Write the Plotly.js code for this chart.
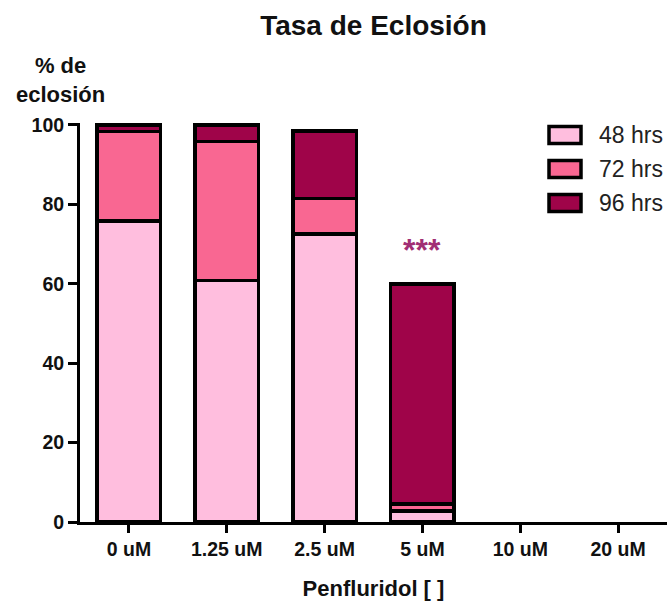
<!DOCTYPE html>
<html>
<head>
<meta charset="utf-8">
<script src="https://cdn.plot.ly/plotly-3.0.1.min.js"></script>
<style>
  html, body { margin: 0; padding: 0; background: #fff; }
  #chart { width: 667px; height: 601px; }
</style>
</head>
<body>
<div id="chart"></div>
<script>
// Hatching rate (% de eclosión) by penfluridol concentration, stacked by time point
const categories = ['0 uM', '1.25 uM', '2.5 uM', '5 uM', '10 uM', '20 uM'];
const hrs48 = [75.8, 60.8, 72.5, 2.8, 0, 0];
const hrs72 = [22.5, 35.0, 9.0, 1.7, 0, 0];
const hrs96 = [1.7, 4.2, 17.0, 55.5, 0, 0];
const seriesNames = ['48 hrs', '72 hrs', '96 hrs'];
const seriesColors = ['#FFBEDE', '#F96792', '#9F0449'];
const significance = { category: '5 uM', label: '***' };

const FONT = '"Liberation Sans", Arial, sans-serif';
const INK = '#111111';

// plot area geometry (pixels) used to place the hand-drawn legend
const W = 667, H = 601;
const M = { l: 80, r: 0, t: 123, b: 79 };
const plotW = W - M.l - M.r, plotH = H - M.t - M.b;
const px2x = px => (px - M.l) / plotW;
const py2y = py => (H - M.b - py) / plotH;

const seriesValues = [hrs48, hrs72, hrs96];
const traces = seriesValues.map((vals, i) => ({
  type: 'bar',
  name: seriesNames[i],
  x: categories,
  y: vals,
  marker: {
    color: seriesColors[i],
    // no outline on empty segments, so zero stacks stay invisible
    line: { color: '#000', width: vals.map(v => (v > 0 ? 3.5 : 0)) }
  },
  hoverinfo: 'x+y+name',
  showlegend: false
}));

// stacked total for the annotated category
const idx = categories.indexOf(significance.category);
const total = hrs48[idx] + hrs72[idx] + hrs96[idx];

const shapes = [];
const annotations = [];
const rowCenters = [135, 169, 203];
seriesNames.forEach((name, i) => {
  const cy = rowCenters[i];
  shapes.push({
    type: 'rect', xref: 'paper', yref: 'paper',
    x0: px2x(549), x1: px2x(581),
    y0: py2y(cy + 8.5), y1: py2y(cy - 8.5),
    fillcolor: seriesColors[i],
    line: { color: '#000', width: 3.5 }
  });
  annotations.push({
    xref: 'paper', yref: 'paper',
    x: px2x(597), y: py2y(cy),
    xanchor: 'left', yanchor: 'middle',
    text: name, showarrow: false,
    font: { family: FONT, size: 23, color: '#222' }
  });
});

// y-axis caption above the axis
annotations.push({
  xref: 'paper', yref: 'paper',
  x: px2x(60), y: py2y(80),
  xanchor: 'center', yanchor: 'middle',
  text: '<b>% de<br>eclosión</b>', showarrow: false, align: 'center',
  font: { family: FONT, size: 22, color: INK }
});

// significance marker above the 5 uM stack
annotations.push({
  x: significance.category, y: total,
  xref: 'x', yref: 'y',
  xanchor: 'center', yanchor: 'bottom', yshift: 14,
  text: '<b>' + significance.label + '</b>', showarrow: false,
  font: { family: FONT, size: 32, color: '#A12E74' }
});

const layout = {
  width: W, height: H,
  margin: M,
  paper_bgcolor: '#fff', plot_bgcolor: '#fff',
  barmode: 'stack',
  bargap: 0.35,
  showlegend: false,
  title: {
    text: '<b>Tasa de Eclosión</b>',
    x: 0.5, xanchor: 'center', xref: 'paper',
    y: 0.958, yanchor: 'middle', yref: 'container',
    font: { family: FONT, size: 28, color: INK }
  },
  xaxis: {
    type: 'category',
    categoryorder: 'array', categoryarray: categories,
    range: [-0.5, 5.5],
    showline: true, linecolor: '#000', linewidth: 3,
    ticks: 'outside', ticklen: 8, tickwidth: 3, tickcolor: '#000',
    showgrid: false, zeroline: false,
    tickfont: { family: FONT, size: 19.5, color: INK, weight: 'bold' },
    title: {
      text: '<b>Penfluridol [ ]</b>',
      standoff: 22,
      font: { family: FONT, size: 22, color: INK }
    },
    fixedrange: true
  },
  yaxis: {
    range: [0, 100.5],
    tickvals: [0, 20, 40, 60, 80, 100],
    showline: true, linecolor: '#000', linewidth: 3,
    ticks: 'outside', ticklen: 9, tickwidth: 3, tickcolor: '#000',
    showgrid: false, zeroline: false,
    tickfont: { family: FONT, size: 19.5, color: INK, weight: 'bold' },
    fixedrange: true
  },
  shapes: shapes,
  annotations: annotations
};

Plotly.newPlot('chart', traces, layout, { displayModeBar: false, staticPlot: true });
</script>
</body>
</html>
